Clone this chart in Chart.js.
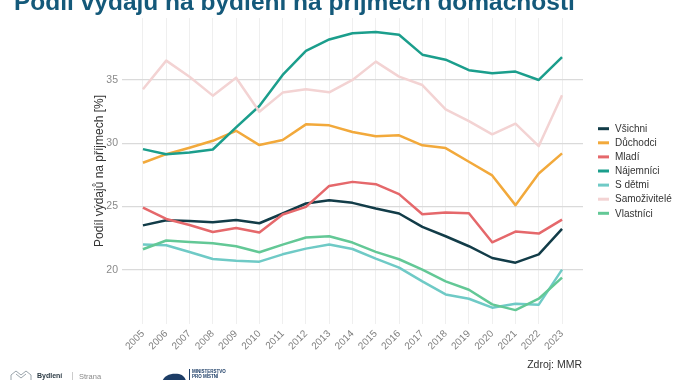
<!DOCTYPE html>
<html>
<head>
<meta charset="utf-8">
<script src="https://cdn.jsdelivr.net/npm/chart.js@4"></script>
<style>
html,body{margin:0;padding:0;background:#fff;}
#wrap{position:relative;width:674px;height:380px;overflow:hidden;font-family:"Liberation Sans",Arial,sans-serif;}
#c{position:absolute;left:0;top:0;}
#title{position:absolute;left:14px;top:-11px;font-size:24.5px;line-height:25px;font-weight:bold;color:#14597a;white-space:nowrap;}
#src{position:absolute;right:92px;top:358px;font-size:10.5px;line-height:12px;color:#333;white-space:nowrap;}
.ft{position:absolute;white-space:nowrap;}
</style>
</head>
<body>
<div id="wrap">
  <canvas id="c" width="674" height="380"></canvas>
  <div id="title">Podíl výdajů na bydlení na příjmech domácností</div>
  <div id="src">Zdroj: MMR</div>
  <svg class="ft" style="left:10px;top:370px" width="22" height="12" viewBox="0 0 22 12">
    <polyline points="1,11 1,5 6,1 11,5 16,1 21,5 21,11" fill="none" stroke="#9aa4ab" stroke-width="1"/>
    <polyline points="6,4 11,8 16,4" fill="none" stroke="#9aa4ab" stroke-width="1"/>
  </svg>
  <div class="ft" style="left:37px;top:372px;font-size:7px;font-weight:bold;color:#2b3a44;">Bydlení</div>
  <div class="ft" style="left:72px;top:372px;width:1px;height:10px;background:#ccc;"></div>
  <div class="ft" style="left:79px;top:372px;font-size:7.5px;color:#8a8a8a;">Strana</div>
  <svg class="ft" style="left:161px;top:372px" width="26" height="10" viewBox="0 0 26 10">
    <path d="M1,10 C3,3 10,1 18,2 C22,3 25,6 25,10 Z" fill="#1d3d66"/>
  </svg>
  <div class="ft" style="left:189px;top:369px;width:1px;height:11px;background:#1d3d66;"></div>
  <div class="ft" style="left:192px;top:369px;font-size:4.5px;line-height:5px;font-weight:bold;color:#1d3d66;">MINISTERSTVO<br>PRO MÍSTNÍ</div>
</div>
<script>
const years = [2005,2006,2007,2008,2009,2010,2011,2012,2013,2014,2015,2016,2017,2018,2019,2020,2021,2022,2023];
const seriesNames = ['Všichni','Důchodci','Mladí','Nájemníci','S dětmi','Samoživitelé','Vlastníci'];
const vsichni     = [23.5,23.9,23.85,23.75,23.93,23.67,24.44,25.23,25.49,25.28,24.83,24.44,23.38,22.64,21.85,20.92,20.55,21.21,23.22];
const duchodci    = [28.45,29.13,29.64,30.19,30.98,29.85,30.25,31.49,31.41,30.88,30.54,30.62,29.83,29.61,28.53,27.45,25.1,27.6,29.19];
const mladi       = [24.91,24.01,23.53,22.98,23.3,22.93,24.36,24.96,26.62,26.94,26.76,25.97,24.38,24.52,24.46,22.16,23.01,22.85,23.96];
const najemnici   = [29.53,29.13,29.27,29.5,31.25,32.94,35.4,37.3,38.2,38.7,38.8,38.57,37.0,36.6,35.77,35.53,35.66,35.0,36.8];
const sDetmi      = [21.98,21.93,21.4,20.84,20.71,20.63,21.21,21.66,21.98,21.63,20.87,20.16,19.07,18.04,17.7,16.99,17.3,17.23,20.0];
const samozivitele= [34.26,36.53,35.26,33.76,35.18,32.49,34.0,34.26,34.02,35.0,36.45,35.26,34.6,32.68,31.75,30.7,31.54,29.77,33.79];
const vlastnici   = [21.61,22.3,22.19,22.08,21.85,21.37,21.98,22.54,22.64,22.14,21.4,20.82,20.0,19.07,18.41,17.25,16.8,17.7,19.37];
const yTicks = [20,25,30,35];

const seriesValues = [vsichni,duchodci,mladi,najemnici,sDetmi,samozivitele,vlastnici];
const seriesColors = ['#123c48','#f2a93b','#e5686b','#1b9e8c','#6fcac6','#f3d3d3','#63c896'];

const toPts = vals => years.map((yr,i)=>({x:yr,y:vals[i]}));
const datasets = seriesNames.map((n,i)=>({
  label:n, data:toPts(seriesValues[i]), borderColor:seriesColors[i], backgroundColor:seriesColors[i],
  order: seriesNames.length - i
}));

const FONT = '"Liberation Sans", Arial, sans-serif';
Chart.defaults.font.family = FONT;

const sideLegend = {
  id:'sideLegend',
  afterDraw(chart){
    const {ctx, chartArea} = chart;
    const ds = chart.data.datasets;
    const step = 14.1;
    const cy = (chartArea.top + chartArea.bottom)/2;
    const x0 = chartArea.right + 15;
    ctx.save();
    ctx.font = '10px ' + FONT;
    ctx.textBaseline = 'middle';
    ds.forEach((d,i)=>{
      const y = cy + (i - (ds.length-1)/2)*step;
      ctx.strokeStyle = d.borderColor; ctx.lineWidth = 3;
      ctx.beginPath(); ctx.moveTo(x0, y); ctx.lineTo(x0+11, y); ctx.stroke();
      ctx.fillStyle = '#333';
      ctx.fillText(d.label, x0+17, y+0.5);
    });
    ctx.restore();
  }
};

new Chart(document.getElementById('c'), {
  type:'line',
  data:{datasets},
  options:{
    responsive:false, animation:false,
    layout:{padding:{top:18,right:91,bottom:0,left:0}},
    elements:{point:{radius:0}, line:{borderWidth:2.5, tension:0, borderJoinStyle:'round'}},
    plugins:{legend:{display:false}, tooltip:{enabled:false}},
    scales:{
      x:{
        type:'linear', min:2004.1, max:2023.9,
        afterBuildTicks(s){ s.ticks = years.map(v=>({value:v})); },
        afterFit(s){ s.height = 56; },
        border:{display:false},
        grid:{color:'#efefef', lineWidth:1, drawTicks:false},
        ticks:{autoSkip:false, maxRotation:45, minRotation:45, padding:4, color:'#7f7f7f', font:{size:10}, callback:v=>String(v)}
      },
      y:{
        min:15.7, max:39.9,
        afterBuildTicks(s){ s.ticks = yTicks.map(v=>({value:v})); },
        afterFit(s){ s.width = 122; },
        border:{display:false},
        grid:{color:'#dadada', lineWidth:1.2, drawTicks:false},
        ticks:{padding:4, color:'#8a8a8a', font:{size:10.5}},
        title:{display:true, text:'Podíl výdajů na příjmech [%]', color:'#333', font:{size:12}, padding:{top:92.8,bottom:0}}
      }
    }
  },
  plugins:[sideLegend]
});
</script>
</body>
</html>
